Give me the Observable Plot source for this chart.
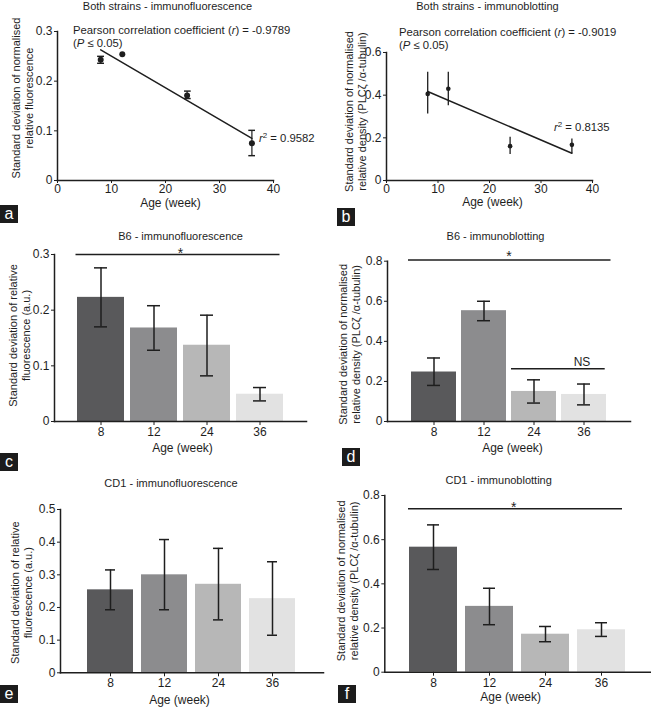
<!DOCTYPE html>
<html><head><meta charset="utf-8">
<script src="https://cdn.jsdelivr.net/npm/d3@7"></script>
<script src="https://cdn.jsdelivr.net/npm/@observablehq/plot@0.6"></script>
<style>
body{margin:0;background:#fff;font-family:"Liberation Sans",Arial,Helvetica,sans-serif;color:#1e1e1e}
#root{position:relative;width:651px;height:711px;overflow:hidden;background:#fff}
.tag{position:absolute;width:18px;height:18px;background:#1c1c1c;color:#fff;font-size:16px;line-height:17px;text-align:center}
.ann{position:absolute;font-size:11.3px;line-height:13px;white-space:nowrap;color:#1e1e1e}
.ann sup{font-size:8px;line-height:0;vertical-align:4px}
</style></head><body><div id="root"></div>
<script>
// ---------- shared categories ----------
const ages = [8, 12, 24, 36];
const ageLabels = ["8", "12", "24", "36"];
const barColors = ["#59595b", "#8c8c8e", "#b7b7b7", "#e2e2e2"];

// ---------- (a) Both strains - immunofluorescence ----------
const aMean = [0.243, 0.254, 0.171, 0.075];
const aLow  = [0.236, 0.254, 0.165, 0.050];
const aHigh = [0.250, 0.254, 0.180, 0.101];
const aFitAge = [8, 36];
const aFitVal = [0.263, 0.085];
const aXTicks = [0, 10, 20, 30, 40];
const aYTicks = [0, 0.1, 0.2, 0.3];
const aPearson = "-0.9789";
const aR2 = "0.9582";

// ---------- (b) Both strains - immunoblotting ----------
const bMean = [0.406, 0.430, 0.161, 0.167];
const bLow  = [0.312, 0.350, 0.122, 0.125];
const bHigh = [0.508, 0.508, 0.203, 0.195];
const bFitAge = [8, 36];
const bFitVal = [0.417, 0.128];
const bXTicks = [0, 10, 20, 30, 40];
const bYTicks = [0, 0.2, 0.4, 0.6];
const bPearson = "-0.9019";
const bR2 = "0.8135";

// ---------- (c) B6 - immunofluorescence ----------
const cMean = [0.223, 0.168, 0.137, 0.049];
const cLow  = [0.170, 0.128, 0.082, 0.037];
const cHigh = [0.276, 0.208, 0.191, 0.061];
const cYTicks = [0, 0.1, 0.2, 0.3];
const cSig = [{from: "8", to: "36", level: 0.3, mark: "*"}];

// ---------- (d) B6 - immunoblotting ----------
const dMean = [0.247, 0.553, 0.150, 0.135];
const dLow  = [0.180, 0.503, 0.092, 0.083];
const dHigh = [0.317, 0.600, 0.208, 0.187];
const dYTicks = [0, 0.2, 0.4, 0.6, 0.8];
const dSig = [{from: "8", to: "36", level: 0.806, mark: "*"}];
const dNS = [{from: "24", to: "36", level: 0.263, mark: "NS"}];

// ---------- (e) CD1 - immunofluorescence ----------
const eMean = [0.254, 0.300, 0.271, 0.227];
const eLow  = [0.193, 0.193, 0.162, 0.115];
const eHigh = [0.315, 0.408, 0.381, 0.340];
const eYTicks = [0, 0.1, 0.2, 0.3, 0.4, 0.5];

// ---------- (f) CD1 - immunoblotting ----------
const fMean = [0.566, 0.298, 0.172, 0.192];
const fLow  = [0.465, 0.215, 0.138, 0.162];
const fHigh = [0.667, 0.380, 0.207, 0.224];
const fYTicks = [0, 0.2, 0.4, 0.6, 0.8];
const fSig = [{from: "8", to: "36", level: 0.74, mark: "*"}];

// ---------- text ----------
const xLabel = "Age (week)";
const yLabelNormFluo = "Standard deviation of normalised\nrelative fluorescence";
const yLabelDensity = "Standard deviation of normalised\nrelative density (PLCζ /α-tubulin)";
const yLabelRelFluo = "Standard deviation of relative\nfluorescence (a.u.)";

// ---------- drawing ----------
const root = document.getElementById("root");
const ink = "#1e1e1e";
const font = "'Liberation Sans', Arial, Helvetica, sans-serif";
const fmt = d => d === 0 ? "0" : d3.format(".1f")(d);

function place(node, left, top) {
  node.style.position = "absolute";
  node.style.left = left + "px";
  node.style.top = top + "px";
  root.append(node);
}

function commonMarks(c) {
  return [
    Plot.frame({anchor: "left", stroke: ink, strokeWidth: 1.5}),
    Plot.frame({anchor: "bottom", stroke: ink, strokeWidth: 1.5}),
    Plot.axisY({ticks: c.yTicks, tickFormat: fmt, tickSize: 3, tickPadding: 2, label: null, fontSize: 12}),
    Plot.text([c.title], {frameAnchor: "top", dx: c.titleDx, dy: c.titleDy, lineAnchor: "middle", fontSize: 11}),
    Plot.text([xLabel], {frameAnchor: "bottom", dx: c.xlDx, dy: c.xlDy, lineAnchor: "middle", fontSize: 12}),
    Plot.text([c.yLabel], {frameAnchor: "left", rotate: -90, dx: c.ylDx, dy: c.ylDy,
      textAnchor: "middle", lineAnchor: "middle", lineHeight: 1.18, fontSize: 11})
  ];
}

function baseOpts(c) {
  return {
    width: c.w, height: c.h,
    marginLeft: c.ml, marginRight: c.mr, marginTop: c.mt, marginBottom: c.mb,
    style: {fontFamily: font, fontSize: "11px", color: ink, background: "transparent", overflow: "visible"}
  };
}

function scatterPanel(c) {
  const rows = ages.map((age, i) => ({age, mean: c.mean[i], lo: c.low[i], hi: c.high[i]}));
  const withErr = rows.filter(d => d.hi > d.lo);
  const fit = c.fitAge.map((age, i) => ({age, val: c.fitVal[i]}));
  return Plot.plot({
    ...baseOpts(c),
    x: {domain: [0, 40]},
    y: {domain: c.yDomain},
    marks: [
      Plot.line(fit, {x: "age", y: "val", stroke: ink, strokeWidth: 1.5}),
      c.caps
        ? Plot.link(withErr, {x1: "age", x2: "age", y1: "lo", y2: "hi", stroke: ink, strokeWidth: 1.2,
            markerStart: "tick", markerEnd: "tick"})
        : Plot.ruleX(withErr, {x: "age", y1: "lo", y2: "hi", stroke: ink, strokeWidth: 1.3}),
      Plot.dot(rows, {x: "age", y: "mean", r: c.r, fill: ink}),
      Plot.axisX({ticks: c.xTicks, tickSize: 3, tickPadding: 1, label: null, fontSize: 12}),
      ...commonMarks(c)
    ]
  });
}

function barPanel(c) {
  const rows = ageLabels.map((age, i) => ({age, mean: c.mean[i], lo: c.low[i], hi: c.high[i]}));
  const marks = [
    Plot.barY(rows, {x: "age", y: "mean", fill: "age"}),
    Plot.ruleX(rows, {x: "age", y1: "lo", y2: "hi", stroke: ink, strokeWidth: 1.5}),
    Plot.tickY(rows, {x: "age", y: "lo", stroke: ink, strokeWidth: 1.5, insetLeft: c.cap, insetRight: c.cap}),
    Plot.tickY(rows, {x: "age", y: "hi", stroke: ink, strokeWidth: 1.5, insetLeft: c.cap, insetRight: c.cap}),
    Plot.axisX({tickSize: 4, tickPadding: 2, label: null, fontSize: 12}),
    ...commonMarks(c)
  ];
  if (c.sig) {
    marks.push(Plot.ruleY(c.sig, {y: "level", x1: "from", x2: "to", stroke: ink, strokeWidth: 1.5,
      insetLeft: c.sigInset[0], insetRight: c.sigInset[1]}));
    marks.push(Plot.text(c.sig, {y: "level", text: "mark", lineAnchor: "middle", dy: c.starDy, dx: c.starDx, fontSize: 14}));
  }
  if (c.ns) {
    marks.push(Plot.ruleY(c.ns, {y: "level", x1: "from", x2: "to", stroke: ink, strokeWidth: 1.5,
      insetLeft: c.nsInset[0], insetRight: c.nsInset[1]}));
    marks.push(Plot.text(c.ns, {x: "from", y: "level", text: "mark", lineAnchor: "bottom", dx: c.nsDx, dy: -3, fontSize: 12}));
  }
  return Plot.plot({
    ...baseOpts(c),
    x: {domain: ageLabels, paddingInner: c.pi, paddingOuter: c.po},
    y: {domain: c.yDomain},
    color: {domain: ageLabels, range: barColors},
    marks
  });
}

// (a)
place(scatterPanel({
  w: 325, h: 230, ml: 57, mr: 52, mt: 31, mb: 50,
  mean: aMean, low: aLow, high: aHigh, fitAge: aFitAge, fitVal: aFitVal,
  xTicks: aXTicks, yTicks: aYTicks, yDomain: [0, 0.3], caps: true, r: 3,
  title: "Both strains - immunofluorescence", titleDx: 2, titleDy: -25,
  xlDx: 5, xlDy: 23, yLabel: yLabelNormFluo, ylDx: -35.5, ylDy: -8
}), 0, 0);

// (b)
place(scatterPanel({
  w: 326, h: 230, ml: 61, mr: 59, mt: 52, mb: 50,
  mean: bMean, low: bLow, high: bHigh, fitAge: bFitAge, fitVal: bFitVal,
  xTicks: bXTicks, yTicks: bYTicks, yDomain: [0, 0.6], caps: false, r: 2.3,
  title: "Both strains - immunoblotting", titleDx: -2, titleDy: -46,
  xlDx: 3, xlDy: 22, yLabel: yLabelDensity, ylDx: -31, ylDy: -5
}), 325, 0);

// (c)
place(barPanel({
  w: 325, h: 240, ml: 54, mr: 19, mt: 24, mb: 49,
  mean: cMean, low: cLow, high: cHigh, yTicks: cYTicks, yDomain: [0, 0.3],
  pi: 0.12, po: 0.42, cap: 17,
  sig: cSig, sigInset: [-1.5, 3.5], starDy: -1, starDx: 0,
  title: "B6 - immunofluorescence", titleDx: 0, titleDy: -18,
  xlDx: 2, xlDy: 27, yLabel: yLabelRelFluo, ylDx: -35, ylDy: -2.5
}), 0, 230);

// (d)
place(barPanel({
  w: 326, h: 240, ml: 62, mr: 21, mt: 30.7, mb: 49,
  mean: dMean, low: dLow, high: dHigh, yTicks: dYTicks, yDomain: [0, 0.8],
  pi: 0.11, po: 0.45, cap: 16,
  sig: dSig, sigInset: [-3, -4.5], starDy: -3, starDx: 0,
  ns: dNS, nsInset: [0, 1.3], nsDx: 48,
  title: "B6 - immunoblotting", titleDx: -13.5, titleDy: -24.7,
  xlDx: 3.5, xlDy: 27, yLabel: yLabelDensity, ylDx: -38, ylDy: 3
}), 325, 230);

// (e)
place(barPanel({
  w: 325, h: 241, ml: 60, mr: 2, mt: 39, mb: 38.7,
  mean: eMean, low: eLow, high: eHigh, yTicks: eYTicks, yDomain: [0, 0.5],
  pi: 0.14, po: 0.47, cap: 18,
  title: "CD1 - immunofluorescence", titleDx: -21, titleDy: -26,
  xlDx: -12.5, xlDy: 27.7, yLabel: yLabelRelFluo, ylDx: -39, ylDy: 1.5
}), 0, 470);

// (f)
place(barPanel({
  w: 326, h: 241, ml: 59.3, mr: 1, mt: 25, mb: 39.3,
  mean: fMean, low: fLow, high: fHigh, yTicks: fYTicks, yDomain: [0, 0.8],
  pi: 0.14, po: 0.43, cap: 18,
  sig: fSig, sigInset: [-1, 3], starDy: -1, starDx: -4,
  title: "CD1 - immunoblotting", titleDx: -19, titleDy: -15,
  xlDx: -7, xlDy: 25.3, yLabel: yLabelDensity, ylDx: -37, ylDy: -3
}), 325, 470);

// annotations
function ann(html, left, top) {
  const d = document.createElement("div");
  d.className = "ann";
  d.innerHTML = html;
  d.style.left = left + "px"; d.style.top = top + "px";
  root.append(d);
}
ann(`Pearson correlation coefficient (<i>r</i>) = ${aPearson}<br>(<i>P</i> ≤ 0.05)`, 73, 24);
ann(`<i>r</i><sup>2</sup> = ${aR2}`, 259, 132);
ann(`Pearson correlation coefficient (<i>r</i>) = ${bPearson}<br>(<i>P</i> ≤ 0.05)`, 399, 25.5);
ann(`<i>r</i><sup>2</sup> = ${bR2}`, 554, 121);

// panel tags
[["a", 0, 205], ["b", 337, 208], ["c", 0, 453], ["d", 342, 448], ["e", 0, 685], ["f", 338, 685]]
  .forEach(([t, l, tp]) => {
    const d = document.createElement("div");
    d.className = "tag"; d.textContent = t;
    d.style.left = l + "px"; d.style.top = tp + "px";
    root.append(d);
  });
</script></body></html>
